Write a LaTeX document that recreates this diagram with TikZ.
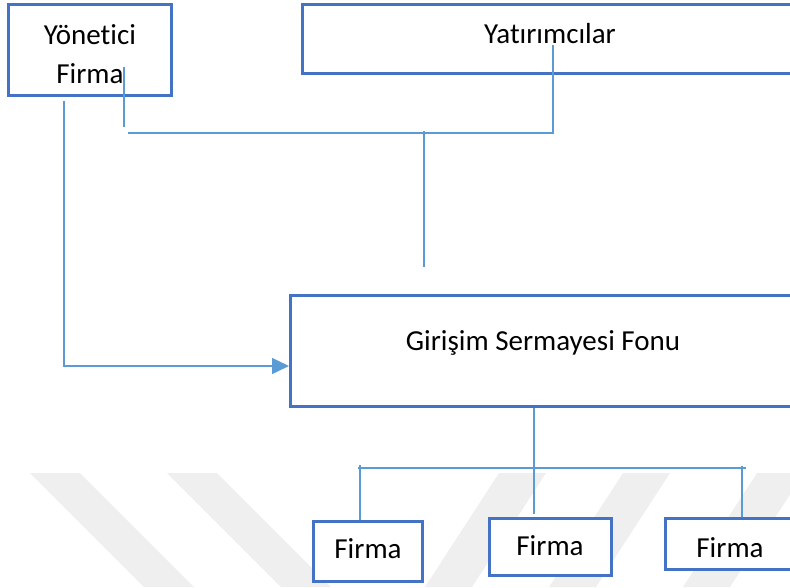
\documentclass[tikz,border=0pt]{standalone}
\usepackage{fontspec}
\setmainfont[Ligatures=NoCommon]{Carlito}
\usetikzlibrary{arrows.meta,positioning,calc}
\definecolor{boxblue}{HTML}{4472C4}
\definecolor{lineblue}{HTML}{5B9BD5}
\definecolor{wmgray}{HTML}{EFEFEF}

\begin{document}
\begin{tikzpicture}[
    x=1pt, y=-1pt,
    every node/.style={font=\fontsize{29}{39}\selectfont},
    box/.style={draw=boxblue, fill=white, line width=3pt, inner sep=0pt, align=center},
    link/.style={draw=lineblue, line width=1.5pt},
    >={Triangle[length=17pt,width=16pt]}
  ]

    % Frame ---------------------------------------------------
    \useasboundingbox (0,0) rectangle (790,587);
    \clip (0,0) rectangle (790,587);

    % Watermark stripes
    \fill[wmgray] (30,473) -- (80,473) -- (194,587) -- (144,587) -- cycle;
    \fill[wmgray] (167,473) -- (217,473) -- (331,587) -- (281,587) -- cycle;
    \fill[wmgray] (499,473) -- (546,473) -- (472,587) -- (425,587) -- cycle;
    \fill[wmgray] (623,473) -- (670,473) -- (596,587) -- (549,587) -- cycle;
    \fill[wmgray] (757,473) -- (804,473) -- (730,587) -- (683,587) -- cycle;

    % Top row -------------------------------------------------
    \node[box, minimum width=163pt, minimum height=91pt] (yon) at (90,50)
          {\rule{0pt}{29pt}Yönetici\\Firma};
    \node[box, minimum width=495pt, minimum height=69pt,
          text height=21pt, text depth=13pt] (yat) at (550,39) {Yatırımcılar};

    % Fund ----------------------------------------------------
    \node[box, minimum width=505pt, minimum height=111pt,
          text height=21pt, text depth=23pt] (gsf) at (543,351) {Girişim Sermayesi Fonu};

    % Firms ---------------------------------------------------
    \node[box, minimum width=109.5pt, minimum height=60pt,
          text height=19pt, text depth=6pt] (firma1) at (368,551.5) {Firma};
    \node[box, minimum width=122pt, minimum height=57pt,
          text height=19pt, text depth=2pt] (firma2) at (550,546.5) {Firma};
    \node[box, minimum width=130pt, minimum height=50.5pt,
          text height=26pt, text depth=0pt] (firma3) at (730,544) {Firma};

    % Upper connectors
    \coordinate (yonTop)  at (124,67);
    \coordinate (yonBot)  at (124,127);
    \coordinate (busU)    at (128,133);
    \coordinate (yatFoot) at (553,45);
    \coordinate (midTop)  at (424,131);
    \coordinate (midBot)  at (424,267);
    \coordinate (yonL)    at (64,101);

    \draw[link] (yonTop) -- (yonBot);
    \draw[link] (busU) -- (busU -| yatFoot) -- (yatFoot);
    \draw[link] (midTop) -- (midBot);
    \draw[link,->] (yonL) |- ([yshift=-15pt]gsf.west);

    % Lower connectors
    \coordinate (busL)  at (358,468);
    \coordinate (busR)  at (746,468);
    \coordinate (dropL) at (360,465);
    \coordinate (dropM) at (534,468);
    \coordinate (dropR) at (742,466);

    \draw[link] (busL) -- (busR);
    \draw[link] (dropM |- gsf.south) -- ([yshift=3pt]firma2.north -| dropM);
    \draw[link] (dropL) -- (dropL |- firma1.north);
    \draw[link] (dropR) -- (dropR |- firma3.north);

\end{tikzpicture}
\end{document}
